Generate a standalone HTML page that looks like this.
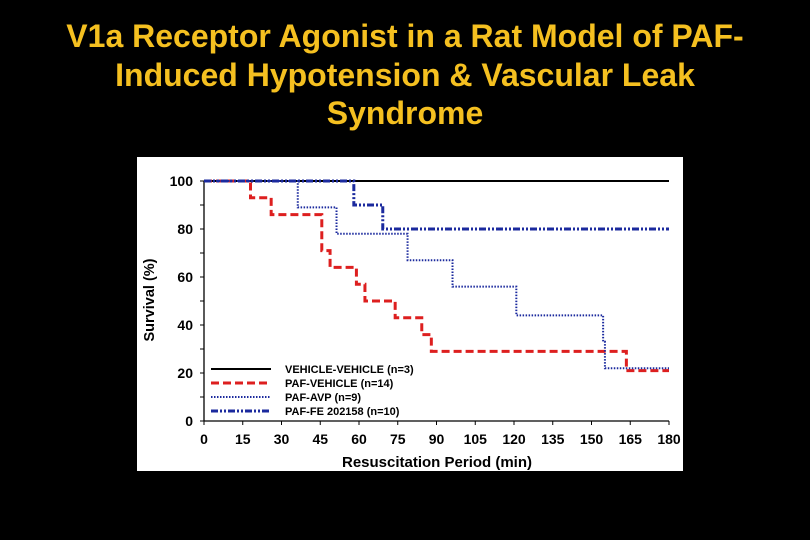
<!DOCTYPE html>
<html><head><meta charset="utf-8"><style>
html,body{margin:0;padding:0;background:#000;width:810px;height:540px;overflow:hidden}
#title{position:absolute;left:0;top:17px;width:810px;text-align:center;color:#f5c020;font-family:"Liberation Sans",sans-serif;font-size:32px;font-weight:bold;line-height:38.5px}
svg{position:absolute;left:0;top:0}
</style></head><body>
<div id="title">V1a Receptor Agonist in a Rat Model of PAF-<br>Induced Hypotension &amp; Vascular Leak<br>Syndrome</div>
<svg id="chart" width="810" height="540"></svg>
<script>
const xTicks=[0,15,30,45,60,75,90,105,120,135,150,165,180];
const yTicks=[0,20,40,60,80,100];
const vehTimes=[0,180];
const vehVals=[100,100];
const pafTimes=[0,18,26,45.6,48.8,59,62.3,74,84.3,88,163.5,180];
const pafVals=[100,93,86,71,64,57,50,43,36,29,21,21];
const avpTimes=[0,36.3,51.3,78.8,96.2,120.9,154.5,155.2,180];
const avpVals=[100,89,78,67,56,44,33,22,22];
const feTimes=[0,58,69.2,180];
const feVals=[100,90,80,80];
const legendLabels=["VEHICLE-VEHICLE (n=3)","PAF-VEHICLE (n=14)","PAF-AVP (n=9)","PAF-FE 202158 (n=10)"];

const NS="http://www.w3.org/2000/svg";
const svg=document.getElementById('chart');
const X0=204,X1=669,Y0=421,Y1=181;
const xs=v=>X0+(X1-X0)*v/180;
const ys=v=>Y0-(Y0-Y1)*v/100;
function mk(t,a){const e=document.createElementNS(NS,t);for(const k in a)e.setAttribute(k,a[k]);svg.appendChild(e);return e;}
const bg=mk('rect',{x:137,y:157,width:546,height:314,fill:'#fff'});


const ax=mk('path',{d:`M${X0},${Y1}V${Y0}H${X1}`,stroke:'#000','stroke-width':1.3,fill:'none'});


const F='font-family:"Liberation Sans",sans-serif;font-weight:bold;';
for(const t of xTicks){
  const l=mk('line',{x1:xs(t),x2:xs(t),y1:Y0,y2:Y0+4,stroke:'#000'});
  
  
  const tx=mk('text',{x:xs(t),y:444,'text-anchor':'middle',style:F+'font-size:14px'});tx.textContent=t;
  
  
}
for(let v=0;v<=100;v+=10){
  const l=mk('line',{x1:X0-4,x2:X0,y1:ys(v),y2:ys(v),stroke:'#000'});
  
  
}
for(const t of yTicks){
  const tx=mk('text',{x:193,y:ys(t)+5,'text-anchor':'end',style:F+'font-size:14px'});tx.textContent=t;
  
  
}
const xt=mk('text',{x:437,y:467,'text-anchor':'middle',style:F+'font-size:15px'});xt.textContent='Resuscitation Period (min)';


const yt=mk('text',{x:0,y:0,'text-anchor':'middle',transform:'translate(154,300) rotate(-90)',style:F+'font-size:14.5px'});yt.textContent='Survival (%)';


const styles=[
 {stroke:'#000','stroke-width':2},
 {stroke:'#dd1f1f','stroke-width':3,'stroke-dasharray':'8,4'},
 {stroke:'#1b2a9e','stroke-width':2,'stroke-dasharray':'1.5,1.5'},
 {stroke:'#1b2a9e','stroke-width':3,'stroke-dasharray':'7,2,2,2,2,2'}];
function step(T,V){let d=`M${xs(T[0])},${ys(V[0])}`;for(let i=1;i<T.length;i++){d+=`H${xs(T[i])}V${ys(V[i])}`;}return d;}
const series=[[vehTimes,vehVals],[pafTimes,pafVals],[avpTimes,avpVals],[feTimes,feVals]];
const names=['vehicle-vehicle-line','paf-vehicle-line','paf-avp-line','paf-fe-line'];
series.forEach((s,i)=>{
  const p=mk('path',Object.assign({d:step(s[0],s[1]),fill:'none'},styles[i]));
  
  
});
legendLabels.forEach((lab,i)=>{
  const y=373+i*14;
  const l=mk('line',Object.assign({x1:211,x2:271,y1:y-4,y2:y-4},styles[i]));
  
  
  const t=mk('text',{x:285,y:y,style:F+'font-size:11px'});t.textContent=lab;
  
  
});
</script>
</body></html>
